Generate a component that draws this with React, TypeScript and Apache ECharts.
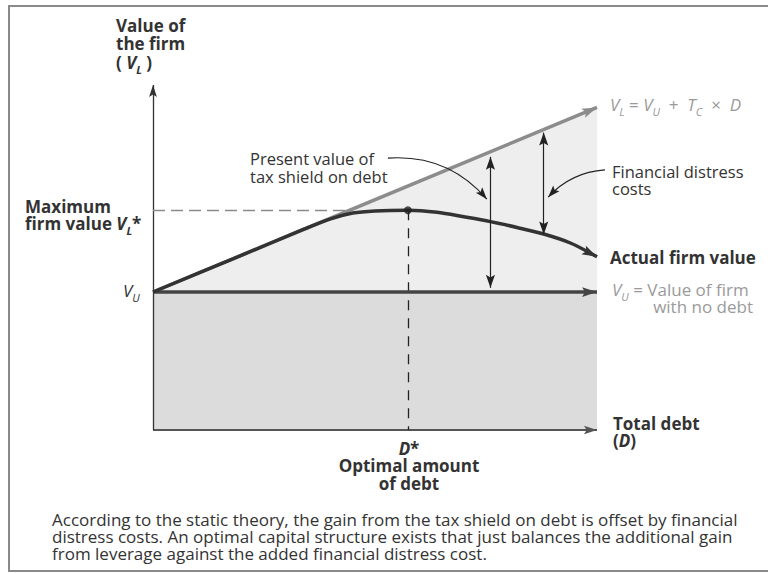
import React, { useEffect, useRef } from "react";
import * as echarts from "echarts";

// ---- data (value space: debt 0..100, firm value 0..100) ----
const debtRange = [0, 100];
const valueRange = [0, 100];
const unleveredLine = [[0, 40], [100, 40]]; // V_U
const leveredLine = [[0, 40], [100, 93.5]]; // V_L = V_U + Tc x D
const actualFirmValue = [
  [0, 40], [18, 49.6], [34, 58.2], [40, 61.2], [45, 62.9], [50, 63.5], [57.4, 63.7],
  [64, 63.1], [70, 61.8], [76, 60.4], [82, 58.7], [88, 56.8], [94, 54.2], [100, 50.2],
];
const optimalPoint = [57.4, 63.7]; // (D*, V_L*)
const maxValueGuide = [[0, 63.7], [44, 63.7]];
const optimalDebtGuide = [[57.4, 63.7], [57.4, 0]];
const taxShieldSpan = [[76, 41.2], [76, 79.2]];
const distressSpan = [[88, 86.2], [88, 56.7]];
const taxShieldPointer = [[52.9, 78.8], [75.2, 66.9]];
const distressPointer = [[101.8, 75.4], [89.0, 67.5]];

const captionLines = [
  "According to the static theory, the gain from the tax shield on debt is offset by financial",
  "distress costs. An optimal capital structure exists that just balances the additional gain",
  "from leverage against the added financial distress cost.",
];

const FONT = "'Open Sans', 'Noto Sans', sans-serif";
const DARK = "#333333";
const GREY_TXT = "#9a9a9a";

// arrow heads with tip at the centre of the symbol box
const ARROW_BIG = "path://M0,0M40,40M20,20L26.5,40L20,36L13.5,40Z";
const ARROW_SMALL = "path://M0,0M40,40M20,20L27,40L20,36L13,40Z";

function richSet(size: number, fill: string, bold: boolean) {
  const base = { fontFamily: FONT, fontSize: size, fill, fontWeight: bold ? "bold" : "normal" };
  return {
    r: { ...base },
    i: { ...base, fontStyle: "italic" },
    s: { ...base, fontStyle: "italic", fontSize: Math.round(size * 0.65), lineHeight: 4, padding: [15, 0, 0, 0] },
  };
}

function txt(x: number, y: number, text: string, o: any = {}) {
  const size = o.size ?? 16;
  const fill = o.fill ?? DARK;
  const bold = !!o.bold;
  const style: any = {
    text,
    fill,
    fontFamily: FONT,
    fontSize: size,
    fontWeight: bold ? "bold" : "normal",
    fontStyle: o.italic ? "italic" : "normal",
    align: o.align ?? "left",
    verticalAlign: "middle",
    rich: richSet(size, fill, bold),
  };
  if (o.lineHeight) style.lineHeight = o.lineHeight;
  return { type: "text", x, y, silent: true, z: 100, style };
}

export default function App() {
  const ref = useRef<HTMLDivElement>(null);
  useEffect(() => {
    document.body.style.margin = "0";
    const chart = echarts.init(ref.current!, null, { renderer: "svg" });
    const linesBase = {
      type: "lines",
      coordinateSystem: "cartesian2d",
      polyline: false,
      clip: false,
      silent: true,
      animation: false,
    };
    const last = actualFirmValue.length - 1;
    chart.setOption({
      animation: false,
      backgroundColor: "#ffffff",
      grid: { left: 153, right: 171, top: 85, bottom: 143 },
      xAxis: { type: "value", min: debtRange[0], max: debtRange[1], show: false },
      yAxis: { type: "value", min: valueRange[0], max: valueRange[1], show: false },
      series: [
        {
          type: "line", data: leveredLine, symbol: "none", silent: true, z: 1, clip: false,
          lineStyle: { width: 0 }, areaStyle: { color: "#eeeeee", opacity: 1 },
        },
        {
          type: "line", data: unleveredLine, symbol: "none", silent: true, z: 2, clip: false,
          lineStyle: { width: 0 }, areaStyle: { color: "#dcdcdc", opacity: 1 },
        },
        {
          ...linesBase, z: 3, symbol: ["none", ARROW_BIG], symbolSize: 26,
          lineStyle: { color: "#555555", width: 2, opacity: 1 },
          data: [{ coords: [[debtRange[0], 0], [debtRange[1], 0]] }],
        },
        {
          ...linesBase, z: 3, symbol: ["none", ARROW_BIG], symbolSize: 24,
          lineStyle: { color: "#333333", width: 1.3, opacity: 1 },
          data: [{ coords: [[0, valueRange[0]], [0, valueRange[1]]] }],
        },
        {
          ...linesBase, z: 4, symbol: "none",
          lineStyle: { color: "#8a8a8a", width: 1.3, type: [12, 6], opacity: 1 },
          data: [{ coords: maxValueGuide }],
        },
        {
          ...linesBase, z: 4, symbol: "none",
          lineStyle: { color: "#222222", width: 1.3, type: [10, 8], opacity: 1 },
          data: [{ coords: optimalDebtGuide }],
        },
        {
          ...linesBase, z: 5, symbol: ["none", ARROW_BIG], symbolSize: 30,
          lineStyle: { color: "#8c8c8c", width: 3.5, opacity: 1 },
          data: [{ coords: leveredLine }],
        },
        {
          ...linesBase, z: 5, symbol: ["none", ARROW_BIG], symbolSize: 30,
          lineStyle: { color: "#444444", width: 3.5, opacity: 1 },
          data: [{ coords: unleveredLine }],
        },
        {
          type: "line", smooth: 0.3, silent: true, z: 6, clip: false, symbol: "none",
          lineStyle: { color: "#333333", width: 3.5 },
          itemStyle: { color: "#333333" },
          data: actualFirmValue.map((p, i) =>
            i === last
              ? { value: p, symbol: ARROW_BIG, symbolSize: 30, symbolRotate: -117 }
              : { value: p }
          ),
        },
        {
          ...linesBase, z: 7, symbol: [ARROW_SMALL, ARROW_SMALL], symbolSize: 26,
          lineStyle: { color: "#222222", width: 1.2, opacity: 1 },
          data: [{ coords: taxShieldSpan }, { coords: distressSpan }],
        },
        {
          ...linesBase, z: 7, symbol: ["none", ARROW_SMALL], symbolSize: 24,
          lineStyle: { color: "#222222", width: 1.1, opacity: 1 },
          data: [
            { coords: taxShieldPointer, lineStyle: { curveness: 0.25 } },
            { coords: distressPointer, lineStyle: { curveness: -0.2 } },
          ],
        },
        {
          type: "scatter", z: 8, silent: true, symbol: "circle", symbolSize: 8,
          itemStyle: { color: "#222222" }, data: [optimalPoint],
        },
      ],
      graphic: {
        elements: [
          {
            type: "rect", silent: true, z: 0,
            shape: { x: 9, y: 6, width: 820, height: 565 },
            style: { fill: "none", stroke: "#8a8a8a", lineWidth: 2 },
          },
          txt(116, 43.5, "{r|Value of}\n{r|the firm}\n{r|( }{i|V}{s|L}{r| )}", { bold: true, size: 17, lineHeight: 18.5 }),
          txt(25, 214.5, "{r|Maximum}\n{r|firm value }{i|V}{s|L}{r|*}", { bold: true, size: 17, lineHeight: 17 }),
          txt(123, 290, "{i|V}{s|U}", { size: 17 }),
          txt(250, 167, "Present value of\ntax shield on debt", { size: 16.5, lineHeight: 18 }),
          txt(610, 104, "{i|V}{s|L}{r| = }{i|V}{s|U}{r|  +  }{i|T}{s|C}{r|  ×  }{i|D}", { size: 17, fill: GREY_TXT }),
          txt(612, 179.5, "Financial distress\ncosts", { size: 16.5, lineHeight: 17 }),
          txt(610, 257, "Actual firm value", { bold: true, size: 17 }),
          txt(612, 289, "{i|V}{s|U}{r| = Value of firm}", { size: 17, fill: GREY_TXT }),
          txt(753, 306, "with no debt", { size: 17, fill: GREY_TXT, align: "right" }),
          txt(613, 431.5, "{r|Total debt}\n{r|(}{i|D}{r|)}", { bold: true, size: 17, lineHeight: 17 }),
          txt(409, 465.5, "{i|D}{r|*}\n{r|Optimal amount}\n{r|of debt}", { bold: true, size: 17, align: "center", lineHeight: 17.5 }),
          txt(52, 536, captionLines.join("\n"), { size: 17, lineHeight: 17 }),
        ],
      },
    });
    return () => chart.dispose();
  }, []);
  return <div ref={ref} style={{ width: 768, height: 573 }} />;
}
